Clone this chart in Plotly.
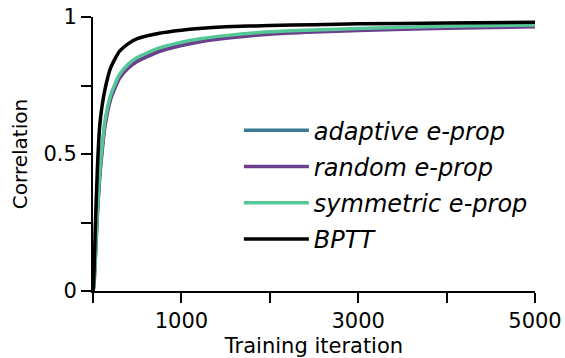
import plotly.graph_objects as go

# Training iterations at which correlation was recorded
iterations = [0, 10, 25, 50, 75, 100, 135, 200, 300, 400, 500, 750, 1000,
              1200, 1500, 2000, 2500, 3000, 4000, 5000]

# Correlation between network output and target per learning rule
adaptive_eprop = [0.0, 0.02, 0.115, 0.29, 0.42, 0.51, 0.61, 0.707, 0.783, 0.821,
                  0.845, 0.881, 0.902, 0.914, 0.927, 0.941, 0.949, 0.954, 0.962, 0.967]
random_eprop = [0.0, 0.02, 0.11, 0.28, 0.41, 0.5, 0.6, 0.7, 0.776, 0.814,
                0.838, 0.874, 0.896, 0.909, 0.922, 0.937, 0.945, 0.951, 0.959, 0.964]
symmetric_eprop = [0.0, 0.02, 0.12, 0.3, 0.43, 0.52, 0.62, 0.715, 0.79, 0.828,
                   0.852, 0.887, 0.908, 0.92, 0.932, 0.946, 0.953, 0.958, 0.966, 0.971]
bptt = [0.0, 0.05, 0.22, 0.45, 0.6, 0.67, 0.735, 0.815, 0.875, 0.903, 0.921,
        0.941, 0.952, 0.958, 0.964, 0.969, 0.972, 0.975, 0.978, 0.981]

x_ticks = [0, 1000, 2000, 3000, 4000, 5000]
x_tick_text = ["", "1000", "", "3000", "", "5000"]
y_ticks = [0, 0.25, 0.5, 0.75, 1]
y_tick_text = ["0", "", "0.5", "", "1"]

series = [
    ("adaptive e-prop", adaptive_eprop, "#3b7995"),
    ("random e-prop", random_eprop, "#6b3f8b"),
    ("symmetric e-prop", symmetric_eprop, "#55c796"),
    ("BPTT", bptt, "#000000"),
]

FONT = "DejaVu Sans"

fig = go.Figure()
for i, (name, values, color) in enumerate(series):
    fig.add_trace(go.Scatter(
        x=iterations, y=values, mode="lines", name=name,
        line=dict(color=color, width=3.5, shape="spline", smoothing=0.6),
        legendgroup=str(i),
    ))

axis_common = dict(
    showline=True, linecolor="black", linewidth=2,
    ticks="outside", ticklen=10, tickwidth=2, tickcolor="black",
    showgrid=False, zeroline=False, automargin=False,
    tickfont=dict(family=FONT, size=21, color="black"),
)

fig.update_layout(
    width=565, height=358,
    margin=dict(l=93, r=30, t=17, b=67),
    paper_bgcolor="white", plot_bgcolor="white",
    showlegend=True,
    legend=dict(
        x=0.33, y=0.388, xanchor="left", yanchor="middle",
        font=dict(family=FONT, size=24, color="black", style="italic"),
        bgcolor="rgba(0,0,0,0)", tracegroupgap=2,
        itemwidth=65,
    ),
    xaxis=dict(
        range=[0, 5000], tickvals=x_ticks, ticktext=x_tick_text,
        title=dict(text="Training iteration", standoff=6,
                   font=dict(family=FONT, size=21, color="black")),
        **axis_common,
    ),
    yaxis=dict(
        range=[0, 1], tickvals=y_ticks, ticktext=y_tick_text,
        title=dict(text="Correlation", standoff=10,
                   font=dict(family=FONT, size=20, color="black")),
        **axis_common,
    ),
)

fig.write_html("out.html")
